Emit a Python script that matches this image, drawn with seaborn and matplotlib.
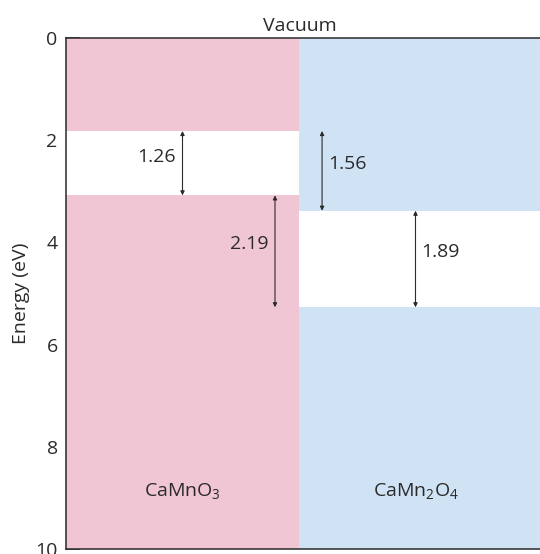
import numpy as np
import matplotlib
matplotlib.use("Agg")
import matplotlib.pyplot as plt
import seaborn as sns

# ---- data ----
materials = [r"CaMnO$_3$", r"CaMn$_2$O$_4$"]
cb_edge = [1.82, 3.38]          # conduction band edge below vacuum (eV)
band_gap = [1.26, 1.89]         # band gaps (eV)
cb_offset = 1.56                # conduction band offset (eV)
vb_offset = 2.19                # valence band offset (eV)
y_ticks = [0, 2, 4, 6, 8, 10]

vb_edge = [c + g for c, g in zip(cb_edge, band_gap)]

pink = "#F0C6D4"
blue = "#CFE3F5"
ink = "#2a2a2a"
fs = 14

sns.set_style("white")
plt.rcParams["font.family"] = ["Open Sans", "DejaVu Sans"]
plt.rcParams["mathtext.fontset"] = "custom"
plt.rcParams["mathtext.rm"] = "Open Sans"
plt.rcParams["mathtext.it"] = "Open Sans"

fig = plt.figure(figsize=(5.4, 5.54), dpi=100)
ax = fig.add_axes([66 / 540, 1 - 549 / 554, (540 - 66) / 540, (549 - 38) / 554])

xs = [-0.5, 0.5]
widths = [1.0, 1.1]
ax.bar(xs, [10, 10], width=widths, align="edge", color=[pink, blue], linewidth=0)
ax.bar(xs, band_gap, bottom=cb_edge, width=widths, align="edge", color="white", linewidth=0)

ax.set_xlim(-0.5, -0.5 + 474 / 233)
ax.set_ylim(10, 0)
ax.set_xticks([])
ax.set_yticks(y_ticks)
ax.tick_params(axis="y", direction="in", length=10, width=1.1, color=ink,
               labelsize=fs, labelcolor=ink, pad=6, left=True)
for side in ["left", "top", "bottom"]:
    ax.spines[side].set_visible(True)
    ax.spines[side].set_color(ink)
    ax.spines[side].set_linewidth(1.1)
ax.spines["right"].set_visible(False)
ax.set_ylabel("Energy (eV)", fontsize=fs, color=ink, labelpad=4)

def arrow(x, y0, y1):
    ax.annotate("", xy=(x, y1), xytext=(x, y0),
                arrowprops=dict(arrowstyle="<|-|>", color=ink, lw=0.8,
                                mutation_scale=6, shrinkA=0, shrinkB=0))

# band gap CaMnO3
arrow(0.0, cb_edge[0], vb_edge[0])
ax.text(-0.03, 2.32, f"{band_gap[0]:.2f}", ha="right", va="center", fontsize=fs, color=ink)
# valence offset
arrow(0.397, vb_edge[0], vb_edge[1])
ax.text(0.37, 4.04, f"{vb_offset:.2f}", ha="right", va="center", fontsize=fs, color=ink)
# conduction offset
arrow(0.599, cb_edge[0], cb_edge[1])
ax.text(0.625, 2.46, f"{cb_offset:.2f}", ha="left", va="center", fontsize=fs, color=ink)
# band gap CaMn2O4
arrow(1.0, cb_edge[1], vb_edge[1])
ax.text(1.025, 4.18, f"{band_gap[1]:.2f}", ha="left", va="center", fontsize=fs, color=ink)

for i, m in enumerate(materials):
    ax.text(i, 8.87, m, ha="center", va="center", fontsize=fs, color=ink)

ax.text(0.505, -0.24, "Vacuum", ha="center", va="center", fontsize=fs, color=ink, clip_on=False)

fig.savefig("out.png", dpi=100)
